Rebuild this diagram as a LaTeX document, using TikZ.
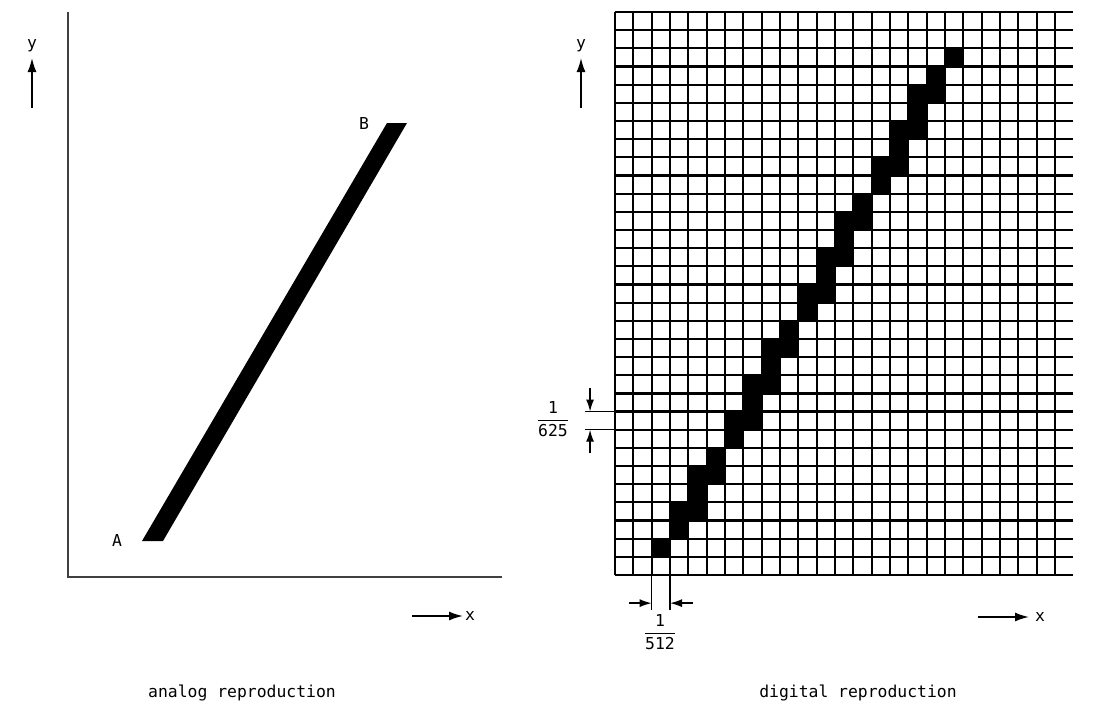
\documentclass[tikz,border=0pt]{standalone}
\usepackage{amsmath}
\usepackage{fontspec}
\newfontfamily\plotfont{DejaVu Sans Mono}
\usetikzlibrary{arrows.meta}

\tikzset{
  lbl/.style={font=\plotfont\fontsize{8.2}{10}\selectfont, inner sep=0pt},
  axisline/.style={black!75, line width=1.1pt},
  dirarrow/.style={line width=0.8pt, -{Latex[length=7pt,width=4.5pt]}},
  dimarrow/.style={line width=0.7pt, -{Latex[length=6pt,width=4pt]}},
  gridline/.style={line width=1.1pt},
  extline/.style={line width=0.7pt}
}

\begin{document}
\begin{tikzpicture}[x=0.5pt,y=-0.5pt]
\useasboundingbox (0,0) rectangle (1094,712);
% analog reproduction
\draw[axisline] (68,12) -- (68,577) -- (502,577);
\fill (142,541) -- (163,541) -- (407,123) -- (387,123) -- cycle;
\node[lbl] (ptA) at (117,541) {A};
\node[lbl] (ptB) at (364,124) {B};
\node[lbl] (yl) at (32,46) {y};
\coordinate (ylTail) at (32,108);
\coordinate (ylTip) at (32,58);
\draw[dirarrow] (ylTail) -- (ylTip);
\node[lbl] (xl) at (470,616) {x};
\coordinate (xlTail) at (412,616);
\coordinate (xlTip) at (463,616);
\draw[dirarrow] (xlTail) -- (xlTip);
\node[lbl] (capL) at (242,693) {analog reproduction};
% digital reproduction
\begin{scope}[shift={(615,575)}, x=9.1667pt, y=9.08pt]
\foreach \c/\r in {2/1, 3/2, 3/3, 4/3, 4/4, 4/5, 5/5, 5/6, 6/7, 6/8, 7/8, 7/9,
  7/10, 8/10, 8/11, 8/12, 9/12, 9/13, 10/14, 10/15, 11/15, 11/16, 11/17, 12/17,
  12/18, 12/19, 13/19, 13/20, 14/21, 14/22, 15/22, 15/23, 15/24, 16/24, 16/25,
  16/26, 17/26, 17/27, 18/28}
  \fill (\c,\r) rectangle +(1,1);
\foreach \c in {0,...,24}
  \draw[gridline] (\c,0) -- (\c,31);
\foreach \r in {0,...,31}
  \draw[gridline] (0,\r) -- (25,\r);
% 1/625
\draw[extline] (-1.65,8) -- (0,8);
\draw[extline] (-1.65,9) -- (0,9);
\coordinate (hTopTail) at (-1.36,10.3);
\coordinate (hTopTip) at (-1.36,9);
\coordinate (hBotTail) at (-1.36,6.7);
\coordinate (hBotTip) at (-1.36,8);
\draw[dimarrow] (hTopTail) -- (hTopTip);
\draw[dimarrow] (hBotTail) -- (hBotTip);
% 1/512
\draw[extline] (2,0) -- (2,-1.95);
\draw[extline] (3,0) -- (3,-1.95);
\coordinate (wLeftTail) at (0.75,-1.55);
\coordinate (wLeftTip) at (2,-1.55);
\coordinate (wRightTail) at (4.25,-1.55);
\coordinate (wRightTip) at (3,-1.55);
\draw[dimarrow] (wLeftTail) -- (wLeftTip);
\draw[dimarrow] (wRightTail) -- (wRightTip);
\end{scope}
\node[lbl] (hfrac) at (553,419) {$\dfrac{\text{1}}{\text{625}}$};
\node[lbl] (wfrac) at (660,632) {$\dfrac{\text{1}}{\text{512}}$};
\node[lbl] (yr) at (581,46) {y};
\coordinate (yrTail) at (581,108);
\coordinate (yrTip) at (581,58);
\draw[dirarrow] (yrTail) -- (yrTip);
\node[lbl] (xr) at (1040,617) {x};
\coordinate (xrTail) at (978,617);
\coordinate (xrTip) at (1029,617);
\draw[dirarrow] (xrTail) -- (xrTip);
\node[lbl] (capR) at (858,693) {digital reproduction};
\end{tikzpicture}
\end{document}
